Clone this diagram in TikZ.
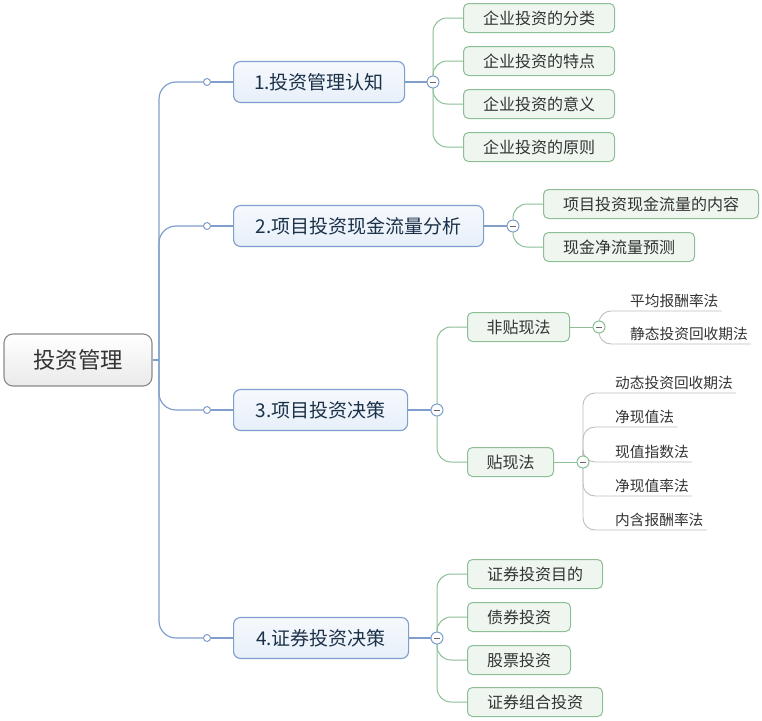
\documentclass[tikz,border=0pt]{standalone}
\usepackage{fontspec}
\setmainfont{Noto Sans CJK SC}
\usepackage{tikz}
\pgfdeclarelayer{bg}
\pgfsetlayers{bg,main}
\definecolor{bluedraw}{HTML}{7F9ECB}
\definecolor{bluetop}{HTML}{F6F9FD}
\definecolor{bluefill}{HTML}{E7EFF9}
\definecolor{greendraw}{HTML}{8CBF96}
\definecolor{greenfill}{HTML}{EEF6EF}
\definecolor{rootdraw}{HTML}{8A8A8A}
\definecolor{rootfill}{HTML}{EAEAEA}
\definecolor{leafline}{HTML}{BDBDBD}
\definecolor{textgray}{HTML}{333333}
\definecolor{topictext}{HTML}{1B3148}

\begin{document}
\begin{tikzpicture}[x=1pt,y=-1pt,
	rootbox/.style={draw=rootdraw,line width=1.1pt,rounded corners=9pt,top color=white,bottom color=rootfill,minimum width=148,minimum height=52,inner sep=0,text=textgray,font=\fontsize{22.4}{26}\selectfont},
	topic/.style={draw=bluedraw,line width=1.1pt,rounded corners=7pt,top color=bluetop,bottom color=bluefill,minimum height=41,inner sep=0,anchor=west,text=topictext,font=\fontsize{19}{22}\selectfont},
	sub/.style={draw=greendraw,line width=1pt,rounded corners=5pt,fill=greenfill,minimum height=29,inner sep=0,anchor=west,text=textgray,font=\fontsize{16}{19}\selectfont},
	leaf/.style={anchor=south west,inner xsep=0,inner ysep=3pt,text=textgray,font=\fontsize{14.7}{17}\selectfont},
	bluelink/.style={draw=bluedraw,line width=1.2pt,rounded corners=17pt},
	greenlink/.style={draw=greendraw,line width=1pt,rounded corners=14pt},
	leaflink/.style={draw=leafline,line width=0.9pt,rounded corners=12pt},
	knob/.style={circle,draw=bluedraw,fill=white,line width=1pt,minimum size=7,inner sep=0},
	fold/.style={circle,draw=#1,fill=white,line width=1pt,minimum size=12,inner sep=0,path picture={\draw[black!60,line width=1pt] ([xshift=-3]path picture bounding box.center) -- ([xshift=3]path picture bounding box.center);}}]
	\useasboundingbox (0,0) rectangle (762,720);
	\node[rootbox] (root) at (78,360) {投资管理};
	\coordinate (hub) at (159,360);
	\node[topic,minimum width=171] (t1) at (233,82) {1.投资管理认知};
	\node[topic,minimum width=250] (t2) at (233,226) {2.项目投资现金流量分析};
	\node[topic,minimum width=174] (t3) at (233,410) {3.项目投资决策};
	\node[topic,minimum width=175] (t4) at (233,638) {4.证券投资决策};
	\foreach \i/\y in {1/82,2/226,3/410,4/638}
		\node[knob] (k\i) at (207,\y) {};
	\node[fold=bluedraw] (f1) at (433,82) {};
	\node[fold=bluedraw] (f2) at (513,226) {};
	\node[fold=bluedraw] (f3) at (437,410) {};
	\node[fold=bluedraw] (f4) at (437,638) {};
	\foreach \i/\y/\t in {1/18/企业投资的分类,2/61/企业投资的特点,3/104/企业投资的意义,4/147/企业投资的原则}
		\node[sub,minimum width=151] (a\i) at (463,\y) {\t};
	\node[sub,minimum width=215] (b1) at (543,204) {项目投资现金流量的内容};
	\node[sub,minimum width=151] (b2) at (543,247) {现金净流量预测};
	\node[sub,minimum width=102] (c1) at (467,327) {非贴现法};
	\node[sub,minimum width=86] (c2) at (467,462) {贴现法};
	\node[fold=greendraw] (f31) at (599,327) {};
	\node[fold=greendraw] (f32) at (583,462) {};
	\node[leaf] (p1) at (630,311) {平均报酬率法};
	\node[leaf] (p2) at (630,344) {静态投资回收期法};
	\foreach \i/\y/\t in {1/393/动态投资回收期法,2/427/净现值法,3/462/现值指数法,4/496/净现值率法,5/530/内含报酬率法}
		\node[leaf] (q\i) at (615,\y) {\t};
	\foreach \i/\y/\w/\t in {1/574/135/证券投资目的,2/617/103/债券投资,3/660/103/股票投资,4/702/135/证券组合投资}
		\node[sub,minimum width=\w] (d\i) at (467,\y) {\t};
	\begin{pgfonlayer}{bg}
		\draw[bluelink] (root) -- (hub);
		\draw[bluelink] (k1.center) -| (hub) |- (k4.center);
		\draw[bluelink] (k2.center) -| (hub);
		\draw[bluelink] (k3.center) -| (hub);
		\foreach \i in {1,...,4}
			\draw[bluelink] (k\i) -- (t\i) (t\i) -- (f\i);
		\foreach \i in {1,...,4}
			\draw[greenlink] (f1.center) |- (a\i.west);
		\foreach \i in {1,2}
			\draw[greenlink] (f2.center) |- (b\i.west);
		\foreach \i in {1,2}
			\draw[greenlink] (f3.center) |- (c\i.west);
		\foreach \i in {1,...,4}
			\draw[greenlink] (f4.center) |- (d\i.west);
		\draw[greenlink] (c1) -- (f31) (c2) -- (f32);
		\foreach \i in {1,2}
			\draw[leaflink] (f31.center) |- (p\i.south west) -- ([xshift=3]p\i.south east);
		\foreach \i in {1,...,5}
			\draw[leaflink] (f32.center) |- (q\i.south west) -- ([xshift=3]q\i.south east);
	\end{pgfonlayer}
\end{tikzpicture}
\end{document}
